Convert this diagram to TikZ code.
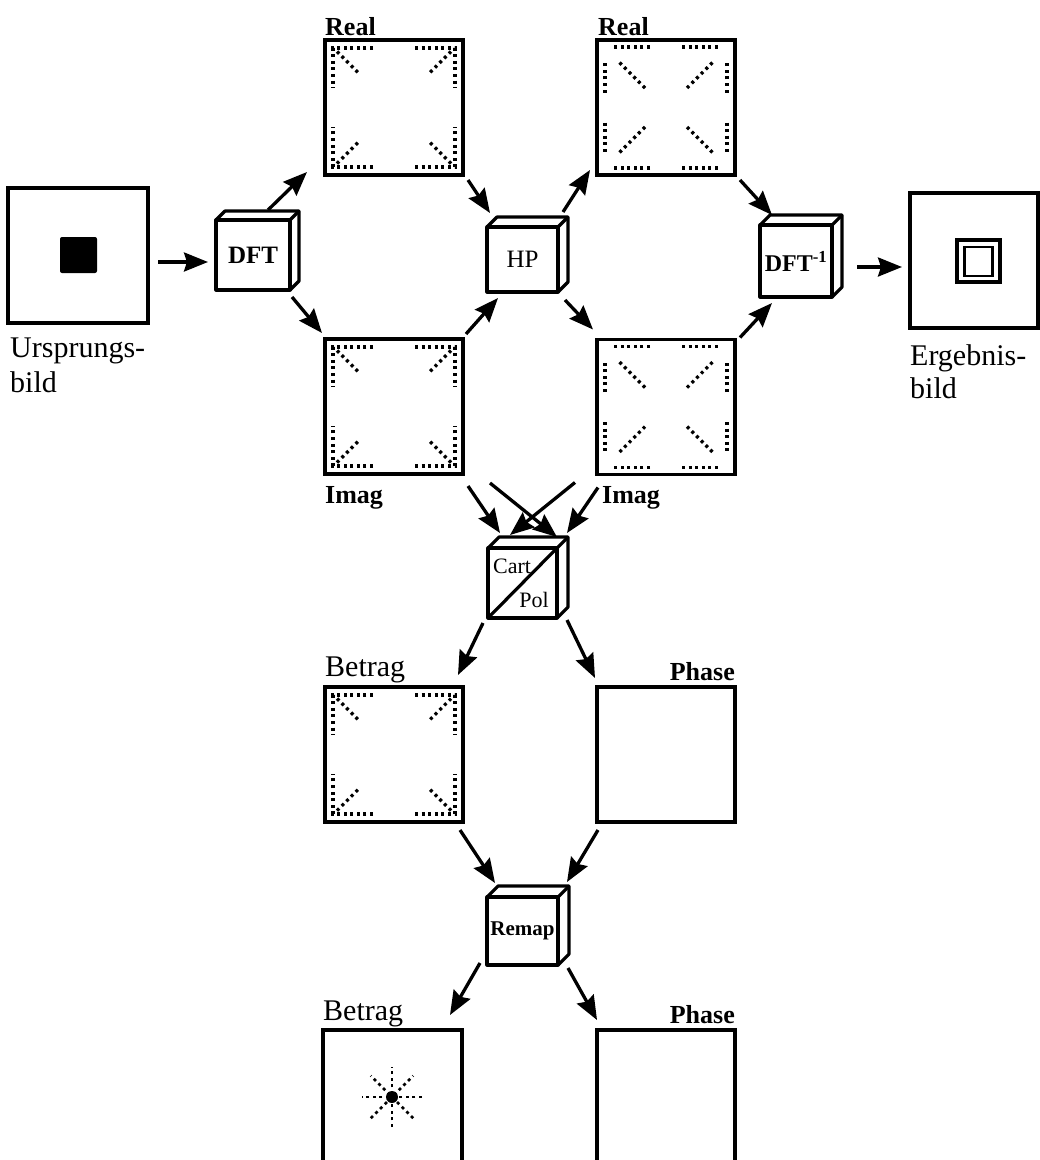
\documentclass[tikz,border=0pt]{standalone}
\usepackage{fontspec}
\setmainfont{Liberation Serif}
\usetikzlibrary{arrows.meta,calc}
\tikzset{
  img/.style={draw, line width=3.3pt, inner sep=0pt, outer sep=0pt, minimum width=138pt, minimum height=135pt},
  cubef/.style={draw, line width=3.2pt, inner sep=0pt, outer sep=0pt, fill=white, line join=round},
  cubeline/.style={line width=3.2pt, line join=round},
  arr/.style={line width=3.3pt, -{Stealth[length=24pt,width=19pt,inset=3pt]}},
  dots/.style={line width=3.2pt, dash pattern=on 3pt off 3.6pt},
  lblb/.style={inner sep=0pt, font=\fontsize{26}{30}\selectfont\bfseries},
  lblr/.style={inner sep=0pt, font=\fontsize{30}{36}\selectfont},
}
\newcommand\drawcube[7]{%
  \node[cubef, minimum width=#3pt, minimum height=#4pt, font=#7] (#1) at #2 {#6};
  \draw[cubeline] (#1.north west) -- ++(#5,-#5) -- ([shift={(#5,-#5)}]#1.north east)
     -- ([shift={(#5,-#5)}]#1.south east) -- (#1.south east);
  \draw[cubeline] (#1.north east) -- ++(#5,-#5);
}
\newcommand\patA[1]{%
  \begin{scope}[shift={(#1.center)}]
  \foreach \sx in {-1,1}{\foreach \sy in {-1,1}{
    \draw[dots] ({\sx*21},{\sy*59.5}) -- ({\sx*61},{\sy*59.5}) -- ({\sx*61},{\sy*19.5});
    \draw[dots] ({\sx*57},{\sy*56}) -- ({\sx*34},{\sy*33});
  }}
  \end{scope}}
\newcommand\patB[1]{%
  \begin{scope}[shift={(#1.center)}]
  \foreach \sx in {-1,1}{\foreach \sy in {-1,1}{
    \draw[dots] ({\sx*16},{\sy*60.5}) -- ({\sx*54},{\sy*60.5});
    \draw[dots] ({\sx*61},{\sy*15}) -- ({\sx*61},{\sy*45});
    \draw[dots] ({\sx*21},{\sy*19.5}) -- ({\sx*47},{\sy*45.5});
  }}
  \end{scope}}
\newcommand\conn[4]{\draw[arr] ([shift={#2}]#1) -- ([shift={#4}]#3);}
\begin{document}
\begin{tikzpicture}[x=1pt,y=-1pt]
\useasboundingbox (0,0) rectangle (1040,1160);
\clip (0,0) rectangle (1040,1160);
\fill[white] (0,0) rectangle (1040,1160);

% image boxes
\node[img, minimum width=140pt] (urs) at (78,255.5) {};
\node[fill=black, minimum width=37pt, minimum height=36pt, inner sep=0pt, rounded corners=2pt] (ursdot) at (78.5,255) {};
\node[img] (real1) at (394,107.5) {};
\node[img] (imag1) at (394,406.5) {};
\node[img] (real2) at (666,107.5) {};
\node[img] (imag2) at (666,407) {};
\node[img, minimum width=128pt] (erg) at (974,260.5) {};
\node[draw, line width=3.2pt, minimum width=43pt, minimum height=42pt, inner sep=0pt] (ergo) at (978.5,261) {};
\node[draw, line width=2.6pt, minimum width=28pt, minimum height=29pt, inner sep=0pt] (ergi) at (978.5,261.5) {};
\node[img] (betrag1) at (394,754.5) {};
\node[img] (phase1) at (666,754.5) {};
\node[img, minimum width=139pt] (betrag2) at (392.5,1097.5) {};
\node[img] (phase2) at (666,1097.5) {};

% dotted patterns
\patA{real1}
\patA{imag1}
\patA{betrag1}
\patB{real2}
\patB{imag2}

% star
\begin{scope}[shift={(392,1097)}]
  \foreach \a in {0,45,90,135}{
    \draw[dots, line width=2.8pt] (\a:30) -- (\a+180:30);
  }
\end{scope}
\node[circle, fill=black, minimum size=12pt, inner sep=0pt] (stardot) at (392,1097) {};

% cubes
\drawcube{dft}{(253,255)}{74}{70}{9}{DFT}{\fontsize{25}{30}\selectfont\bfseries}
\drawcube{hp}{(522.5,259.5)}{71}{65}{10}{HP}{\fontsize{25}{30}\selectfont}
\drawcube{dfti}{(796,261)}{72}{72}{10}{DFT\textsuperscript{-1}}{\fontsize{24}{30}\selectfont\bfseries}
\drawcube{cp}{(522.5,583)}{69}{70}{11}{}{\fontsize{22}{26}\selectfont}
\drawcube{remap}{(522.5,931)}{71}{68}{11}{Remap}{\fontsize{21}{26}\selectfont\bfseries}
\draw[cubeline] (cp.south west) -- (cp.north east);
\node[inner sep=0pt, anchor=base west, font=\fontsize{22}{26}\selectfont] (cart) at ([shift={(5,25)}]cp.north west) {Cart};
\node[inner sep=0pt, anchor=base east, font=\fontsize{22}{26}\selectfont] (pol) at ([shift={(-8,-11)}]cp.south east) {Pol};

% labels
\node[lblb, anchor=base west] (lreal1) at (325,35) {Real};
\node[lblb, anchor=base west] (lreal2) at (598,35) {Real};
\node[lblb, anchor=base west] (limag1) at (325,503) {Imag};
\node[lblb, anchor=base west] (limag2) at (602,503) {Imag};
\node[lblr, anchor=base west] (lurs1) at (10,357) {Ursprungs-};
\node[lblr, anchor=base west] (lurs2) at (10,392) {bild};
\node[lblr, anchor=base west] (lerg1) at (910,365) {Ergebnis-};
\node[lblr, anchor=base west] (lerg2) at (910,398) {bild};
\node[lblr, anchor=base west] (lbet1) at (325,676) {Betrag};
\node[lblr, anchor=base west] (lbet2) at (323,1020) {Betrag};
\node[lblb, anchor=base east] (lpha1) at (735,680) {Phase};
\node[lblb, anchor=base east] (lpha2) at (735,1023) {Phase};

% connectors
\conn{urs.east}{(10,6.5)}{dft.west}{(-8,7)}
\conn{dft.north east}{(-22,-10)}{real1.south west}{(-18,-3)}
\conn{dft.south east}{(2,7)}{imag1.north west}{(-3,-6)}
\conn{real1.south east}{(5,5)}{hp.north west}{(3,-14)}
\conn{imag1.north east}{(3,-5)}{hp.south west}{(11,6)}
\conn{hp.north east}{(5,-15)}{real2.south west}{(-7,-5)}
\conn{hp.south east}{(7,8)}{imag2.north west}{(-4,-10)}
\conn{real2.south east}{(5,5)}{dfti.north west}{(12,-10)}
\conn{imag2.north east}{(5,-2)}{dfti.south west}{(12,6)}
\conn{dfti.east}{(25,6)}{erg.west}{(-8,6.5)}
\conn{imag1.south east}{(5,12)}{cp.north}{(-22.5,-15)}
\conn{imag1.south east}{(27,9)}{cp.north east}{(0,-11)}
\conn{imag2.south west}{(-22,8)}{cp.north}{(-12.5,-13)}
\conn{imag2.south west}{(1,13)}{cp.north east}{(10,-15)}
\conn{cp.south west}{(-5,5)}{betrag1.north east}{(-5,-12)}
\conn{cp.south east}{(10,2)}{phase1.north west}{(-2,-9)}
\conn{betrag1.south east}{(-3,8)}{remap.north west}{(8,-14)}
\conn{phase1.south west}{(1,8)}{remap.north east}{(9,-15)}
\conn{remap.south west}{(-7,-2)}{betrag2.north east}{(-12,-15)}
\conn{remap.south east}{(10,3)}{phase2.north west}{(0,-10)}
\end{tikzpicture}
\end{document}
